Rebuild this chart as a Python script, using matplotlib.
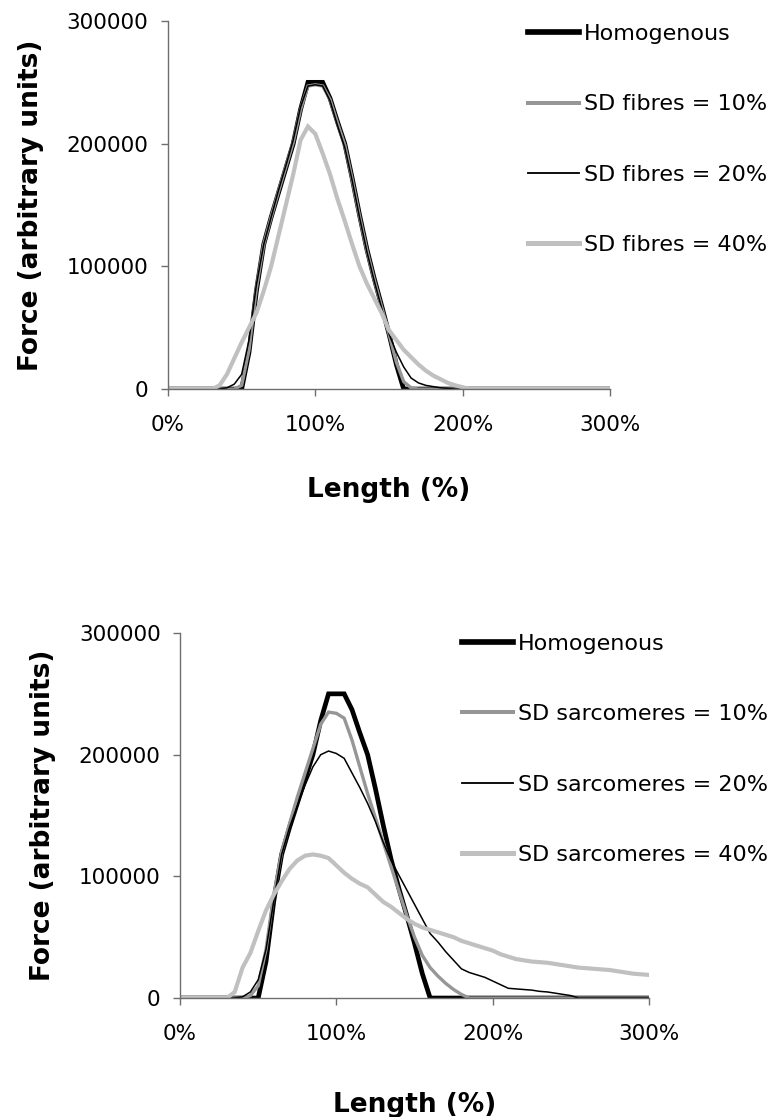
import numpy as np
import matplotlib.pyplot as plt

# Length (%) grid, 5% steps from 0 to 300
length = np.arange(0, 305, 5)

def pad(vals):
    # values are listed up to the point where the curve stays at zero
    out = np.zeros(len(length))
    out[:len(vals)] = vals
    return out

homogenous = pad([0, 0, 0, 0, 0, 0, 0, 0, 0, 0,
                  0, 30000, 80000, 118000, 140000, 160000, 180000, 200000, 228000, 250000,
                  250000, 250000, 237000, 218000, 200000, 172000, 142000, 114000, 90000, 68000,
                  45000, 20000, 0])

fibres_10 = pad([0, 0, 0, 0, 0, 0, 0, 0, 0, 0,
                 3000, 32000, 82000, 118000, 140000, 161000, 181000, 201000, 228000, 247000,
                 248000, 247000, 236000, 217000, 199000, 171000, 141000, 113000, 89000, 67000,
                 45000, 22000, 6000, 1000, 0])

fibres_20 = pad([0, 0, 0, 0, 0, 0, 0, 0, 1000, 4000,
                 12000, 40000, 85000, 118000, 140000, 162000, 182000, 203000, 230000, 247000,
                 248000, 247000, 235000, 215000, 197000, 170000, 140000, 112000, 88000, 66000,
                 45000, 30000, 18000, 9000, 5000, 3000, 2000, 1000, 500, 0])

fibres_40 = pad([0, 0, 0, 0, 0, 0, 0, 3000, 12000, 25000,
                 38000, 50000, 62000, 80000, 100000, 125000, 150000, 175000, 203000, 214000,
                 208000, 192000, 175000, 155000, 137000, 118000, 100000, 86000, 74000, 62000,
                 48000, 40000, 32000, 26000, 20000, 15000, 11000, 8000, 5000, 3000,
                 1500, 0])

sarc_10 = pad([0, 0, 0, 0, 0, 0, 0, 0, 0, 2000,
               10000, 40000, 85000, 120000, 143000, 165000, 185000, 205000, 225000, 235000,
               234000, 230000, 212000, 190000, 168000, 148000, 128000, 108000, 88000, 68000,
               50000, 35000, 25000, 18000, 12000, 7000, 3000, 0])

sarc_20 = pad([0, 0, 0, 0, 0, 0, 0, 0, 1000, 5000,
               15000, 40000, 80000, 118000, 140000, 158000, 175000, 190000, 200000, 203000,
               201000, 197000, 185000, 173000, 160000, 145000, 128000, 113000, 101000, 89000,
               77000, 65000, 53000, 46000, 38000, 31000, 24000, 21000, 19000, 17000,
               14000, 11000, 8000, 7500, 7000, 6500, 5500, 5000, 4000, 3000,
               2000, 0])

sarc_40 = pad([0, 0, 0, 0, 0, 0, 0, 5000, 25000, 37000,
               55000, 72000, 85000, 96000, 106000, 113000, 117000, 118000, 117000, 115000,
               109000, 103000, 98000, 94000, 91000, 85000, 79000, 75000, 70000, 65000,
               61000, 58000, 56000, 54000, 52000, 50000, 47000, 45000, 43000, 41000,
               39000, 36000, 34000, 32000, 31000, 30000, 29500, 29000, 28000, 27000,
               26000, 25000, 24500, 24000, 23500, 23000, 22000, 21000, 20000, 19500,
               19000])

x_ticks = [0, 100, 200, 300]
x_ticklabels = ['0%', '100%', '200%', '300%']
y_ticks = [0, 100000, 200000, 300000]

top_labels = ['Homogenous', 'SD fibres = 10%', 'SD fibres = 20%', 'SD fibres = 40%']
bottom_labels = ['Homogenous', 'SD sarcomeres = 10%', 'SD sarcomeres = 20%', 'SD sarcomeres = 40%']

styles = [dict(color='black', lw=3.4),
          dict(color='#969696', lw=2.4),
          dict(color='black', lw=1.1),
          dict(color='#c0c0c0', lw=3.0)]

fig = plt.figure(figsize=(7.81, 11.17), dpi=100)
ax1 = fig.add_axes([0.2151, 0.6517, 0.5659, 0.3295])
ax2 = fig.add_axes([0.2305, 0.1065, 0.6005, 0.3268])

panels = [(ax1, [homogenous, fibres_10, fibres_20, fibres_40], top_labels, (0.676, 0.9786), 30),
          (ax2, [homogenous, sarc_10, sarc_20, sarc_40], bottom_labels, (0.592, 0.4327), 34)]

for ax, series, labels, anchor, xpad in panels:
    for vals, lab, st in zip(series, labels, styles):
        ax.plot(length, vals, label=lab, solid_joinstyle='miter', **st)
    ax.set_xlim(0, 300)
    ax.set_ylim(0, 300000)
    ax.set_xticks(x_ticks)
    ax.set_xticklabels(x_ticklabels)
    ax.set_yticks(y_ticks)
    ax.set_yticklabels([str(v) for v in y_ticks])
    for s in ['top', 'right']:
        ax.spines[s].set_visible(False)
    for s in ['left', 'bottom']:
        ax.spines[s].set_color('#6e6e6e')
        ax.spines[s].set_linewidth(1.0)
    ax.tick_params(axis='both', direction='out', length=5, width=1.0,
                   color='#6e6e6e', labelsize=15.5)
    ax.tick_params(axis='y', pad=9)
    ax.tick_params(axis='x', pad=14)
    ax.set_xlabel('Length (%)', fontsize=19, fontweight='bold', labelpad=xpad)
    ax.set_ylabel('Force (arbitrary units)', fontsize=19, fontweight='bold', labelpad=16)
    leg = ax.legend(loc='upper left', bbox_to_anchor=anchor, bbox_transform=fig.transFigure,
                    frameon=False, fontsize=16, handlelength=2.3, handletextpad=0.2,
                    labelspacing=2.27, borderpad=0, borderaxespad=0)
    for h, st in zip(leg.get_lines(), styles):
        h.set_linewidth(st['lw'] * 1.2)

fig.savefig('out.png', dpi=100)
